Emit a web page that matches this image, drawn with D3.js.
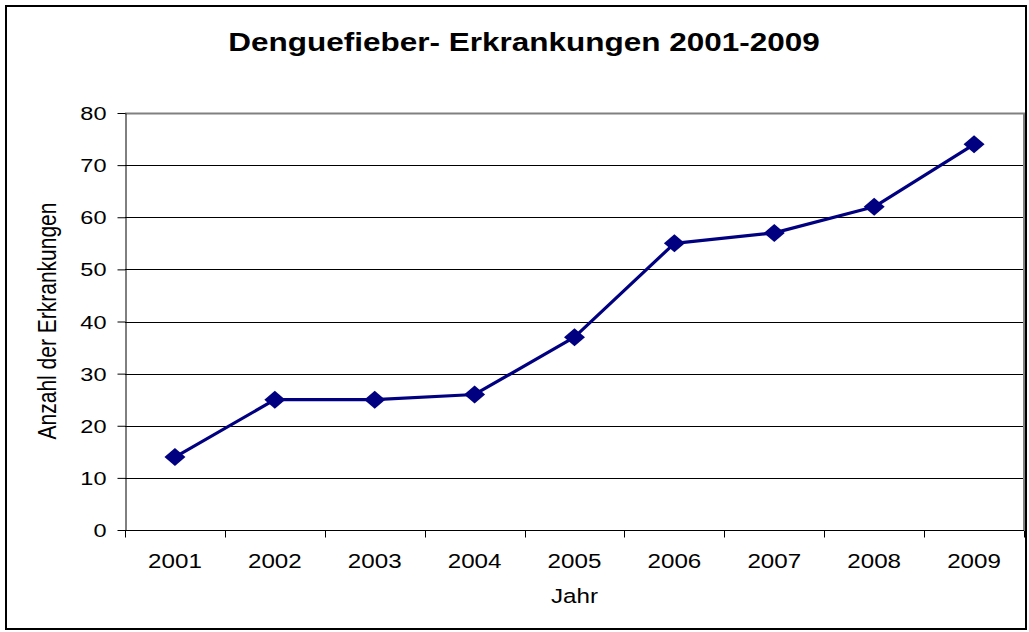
<!DOCTYPE html>
<html>
<head>
<meta charset="utf-8">
<script src="https://cdn.jsdelivr.net/npm/d3@7"></script>
<style>
  html, body { margin: 0; padding: 0; background: #fff; }
  svg { display: block; font-family: "Liberation Sans", Arial, sans-serif; }
</style>
</head>
<body>
<svg id="chart" width="1029" height="632"></svg>
<script>
// Dengue fever cases per year
const years = ["2001", "2002", "2003", "2004", "2005", "2006", "2007", "2008", "2009"];
const cases = [14, 25, 25, 26, 37, 55, 57, 62, 74];
const yTicks = [0, 10, 20, 30, 40, 50, 60, 70, 80];

const titleText = "Denguefieber- Erkrankungen 2001-2009";
const xTitle = "Jahr";
const yTitle = "Anzahl der Erkrankungen";

const svg = d3.select("#chart");
const W = 1029, H = 632;
const plot = { left: 125, right: 1024, top: 113, bottom: 530 };
const SX = 1.24; // glyphs are drawn slightly wide

// outer frame
svg.append("rect")
  .attr("x", 6).attr("y", 6).attr("width", W - 9).attr("height", H - 9)
  .attr("fill", "#fff").attr("stroke", "#000").attr("stroke-width", 2);

const x = d3.scaleBand().domain(years).range([plot.left, plot.right]);
const y = d3.scaleLinear().domain([0, 80]).range([plot.bottom, plot.top]);

// horizontal gridlines
svg.append("g")
  .selectAll("line")
  .data(yTicks.filter(v => v > 0 && v < 80))
  .join("line")
  .attr("x1", plot.left).attr("x2", plot.right)
  .attr("y1", d => Math.round(y(d)) + 0.5).attr("y2", d => Math.round(y(d)) + 0.5)
  .attr("stroke", "#000").attr("stroke-width", 1);

// plot frame top / right (gray)
svg.append("path")
  .attr("d", `M${plot.left},${plot.top + 0.5}H${plot.right}V${plot.bottom}`)
  .attr("fill", "none").attr("stroke", "#808080").attr("stroke-width", 2);

// y axis
const yAxis = svg.append("g")
  .attr("transform", `translate(${plot.left + 0.5},0)`)
  .call(d3.axisLeft(y).tickValues(yTicks).tickSize(8).tickSizeOuter(0));
yAxis.select(".domain").attr("stroke", "#000");
yAxis.selectAll(".tick line").attr("stroke", "#000");
yAxis.selectAll(".tick text")
  .attr("x", null).attr("dy", null)
  .attr("transform", `translate(-19,6.5) scale(${SX},1)`)
  .attr("font-size", 19).attr("fill", "#000")
  .attr("font-family", "'Liberation Sans', Arial, sans-serif");

// x axis with ticks between categories
const xAxisG = svg.append("g")
  .attr("transform", `translate(0,${plot.bottom + 0.5})`);
xAxisG.append("line")
  .attr("x1", plot.left).attr("x2", plot.right)
  .attr("stroke", "#000");
const bounds = years.map(d => x(d)).concat([plot.right]);
xAxisG.selectAll("line.tick")
  .data(bounds)
  .join("line")
  .attr("class", "tick")
  .attr("x1", d => Math.round(d) + 0.5).attr("x2", d => Math.round(d) + 0.5)
  .attr("y1", 0).attr("y2", 7)
  .attr("stroke", "#000");
xAxisG.selectAll("text")
  .data(years)
  .join("text")
  .attr("transform", d => `translate(${x(d) + x.bandwidth() / 2},37) scale(${SX},1)`)
  .attr("text-anchor", "middle")
  .attr("font-size", 19.5)
  .text(d => d);

// series line
const pts = years.map((d, i) => [x(d) + x.bandwidth() / 2, y(cases[i])]);
svg.append("path")
  .attr("d", d3.line()(pts))
  .attr("fill", "none")
  .attr("stroke", "#000080")
  .attr("stroke-width", 3.2)
  .attr("stroke-linejoin", "round");

// diamond markers
svg.append("g")
  .selectAll("path")
  .data(pts)
  .join("path")
  .attr("transform", d => `translate(${d[0]},${d[1]})`)
  .attr("d", "M0,-9L10.5,0L0,9L-10.5,0Z")
  .attr("fill", "#000080");

// titles
svg.append("text")
  .attr("transform", `translate(524,51) scale(1.26,1)`)
  .attr("text-anchor", "middle")
  .attr("font-size", 25).attr("font-weight", "bold")
  .text(titleText);

svg.append("text")
  .attr("transform", `translate(${(plot.left + plot.right) / 2},603) scale(${SX},1)`)
  .attr("text-anchor", "middle")
  .attr("font-size", 19.5)
  .text(xTitle);

svg.append("text")
  .attr("transform", `translate(56,${(plot.top + plot.bottom) / 2 - 0.5}) rotate(-90) scale(1,${SX})`)
  .attr("text-anchor", "middle")
  .attr("font-size", 21)
  .text(yTitle);
</script>
</body>
</html>
